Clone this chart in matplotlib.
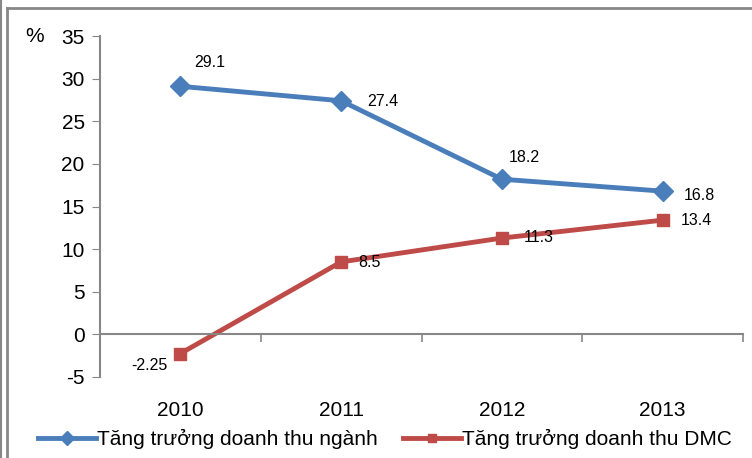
import matplotlib.pyplot as plt
from matplotlib.lines import Line2D
from matplotlib.transforms import blended_transform_factory

plt.rcParams['font.family'] = ['Liberation Sans', 'DejaVu Sans']
plt.rcParams['axes.unicode_minus'] = False

years = ['2010', '2011', '2012', '2013']
nganh = [29.1, 27.4, 18.2, 16.8]
dmc = [-2.25, 8.5, 11.3, 13.4]
nganh_labels = ['29.1', '27.4', '18.2', '16.8']
dmc_labels = ['-2.25', '8.5', '11.3', '13.4']

# label offsets in pixels (dx, dy) relative to the marker
nganh_offsets = [(29, 24), (42, -1), (22, 22), (37, -4)]
dmc_offsets = [(-31, -12), (28, -1), (37, 1), (34, 0)]

blue = '#4A7EBB'
red = '#BE4B48'
grey = '#878787'

fig = plt.figure(figsize=(7.52, 4.58), dpi=100)
ax = fig.add_axes([100 / 752, 1 - 377 / 458, 643 / 752, 341 / 458])

x = list(range(len(years)))
ax.plot(x, nganh, color=blue, lw=3.5, marker='D', ms=10.5, label='Tăng trưởng doanh thu ngành')
ax.plot(x, dmc, color=red, lw=3.5, marker='s', ms=9, label='Tăng trưởng doanh thu DMC')

for i in x:
    ax.annotate(nganh_labels[i], (i, nganh[i]), xytext=nganh_offsets[i], textcoords='offset pixels',
                ha='center', va='center', fontsize=11.5)
    ax.annotate(dmc_labels[i], (i, dmc[i]), xytext=dmc_offsets[i], textcoords='offset pixels',
                ha='center', va='center', fontsize=11.5)

ax.set_xlim(-0.5, 3.5)
ax.set_ylim(-5, 35)
ax.set_yticks(range(-5, 40, 5))
ax.tick_params(axis='y', direction='out', length=6, color=grey, labelsize=15, pad=5)

# category axis drawn at zero
ax.spines['top'].set_visible(False)
ax.spines['right'].set_visible(False)
ax.spines['left'].set_color(grey)
ax.spines['left'].set_linewidth(1.5)
ax.spines['bottom'].set_position(('data', 0))
ax.spines['bottom'].set_color(grey)
ax.spines['bottom'].set_linewidth(1.5)
ax.set_xticks([-0.5, 0.5, 1.5, 2.5, 3.5])
ax.set_xticklabels([])
ax.tick_params(axis='x', direction='out', length=6, color=grey, width=1.2)

trans = blended_transform_factory(ax.transData, ax.transAxes)
for i, yr in enumerate(years):
    ax.text(i, -0.097, yr, transform=trans, ha='center', va='center', fontsize=15)

ax.text(-0.101, 1.0, '%', transform=ax.transAxes, ha='center', va='center', fontsize=15)

fig.legend(loc='center', bbox_to_anchor=(385 / 752, 1 - 439 / 458), ncol=2, frameon=False,
           fontsize=15, handlelength=2.75, columnspacing=1.25, handletextpad=0.05,
           markerscale=0.7, borderpad=0, borderaxespad=0)

# outer frame lines
fig.add_artist(Line2D([7 / 752, 1], [1 - 8 / 458, 1 - 8 / 458], color=grey, lw=2))
fig.add_artist(Line2D([7 / 752, 7 / 752], [0, 1 - 8 / 458], color=grey, lw=2))
fig.add_artist(Line2D([1 / 752, 1 / 752], [0, 1], color=grey, lw=1.5))

fig.savefig('out.png', dpi=100)
